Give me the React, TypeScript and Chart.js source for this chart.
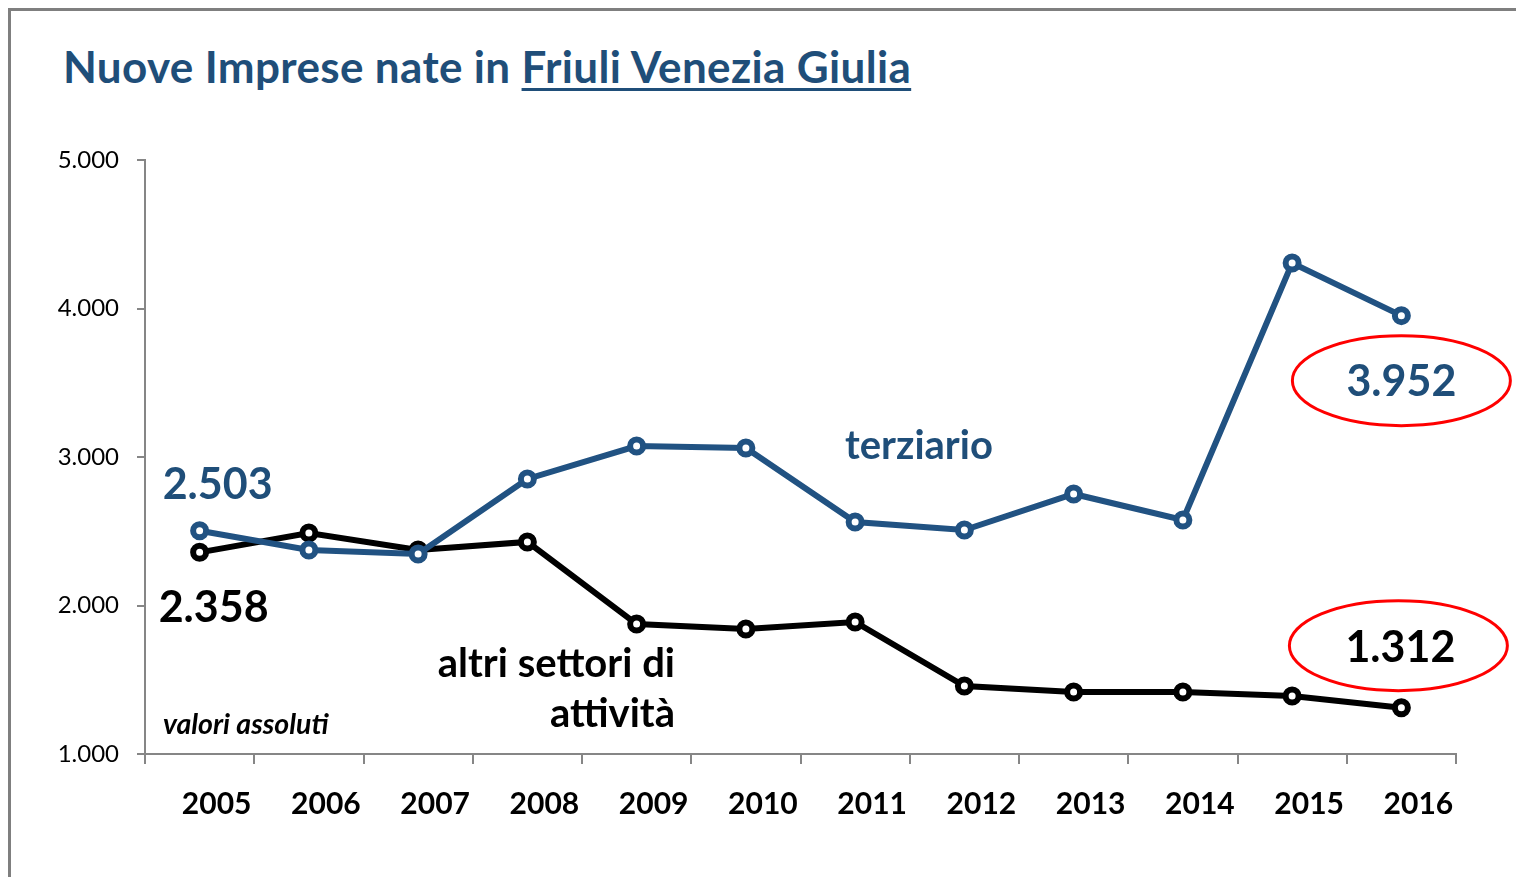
import React, { useEffect, useRef } from "react";
import { Chart, registerables } from "chart.js";

Chart.register(...registerables);

const years = ["2005", "2006", "2007", "2008", "2009", "2010", "2011", "2012", "2013", "2014", "2015", "2016"];
const terziario = [2503, 2374, 2347, 2852, 3074, 3061, 2562, 2508, 2751, 2576, 4306, 3952];
const altri = [2358, 2488, 2374, 2428, 1875, 1842, 1889, 1458, 1418, 1418, 1391, 1312];
const yMin = 1000;
const yMax = 5000;
const yStep = 1000;

const BLUE = "#1F4E79";
const LINE_BLUE = "#215282";
const FONT = "Lato, 'Open Sans', sans-serif";

const fmt = (n: number) => String(Math.round(n)).replace(/\B(?=(\d{3})+(?!\d))/g, ".");

const annotations = {
  id: "annotations",
  afterDatasetsDraw(chart: any) {
    const ctx = chart.ctx;
    const xs = chart.scales.x;
    const ys = chart.scales.y;
    const last = years.length - 1;
    ctx.save();
    ctx.textBaseline = "middle";
    // first values
    ctx.font = `bold 43px ${FONT}`;
    ctx.textAlign = "center";
    ctx.fillStyle = BLUE;
    ctx.fillText(fmt(terziario[0]), xs.getPixelForValue(0) + 18, ys.getPixelForValue(terziario[0]) - 46);
    ctx.fillStyle = "#000";
    ctx.fillText(fmt(altri[0]), xs.getPixelForValue(0) + 14, ys.getPixelForValue(altri[0]) + 56);
    // last values with ellipses
    const lx = xs.getPixelForValue(last);
    const ty = ys.getPixelForValue(terziario[last]) + 65;
    const ay = ys.getPixelForValue(altri[last]) - 62;
    ctx.strokeStyle = "#FF0000";
    ctx.lineWidth = 3;
    ctx.beginPath();
    ctx.ellipse(lx, ty, 109, 45, 0, 0, Math.PI * 2);
    ctx.stroke();
    ctx.beginPath();
    ctx.ellipse(lx - 3, ay, 109, 45, 0, 0, Math.PI * 2);
    ctx.stroke();
    ctx.fillStyle = BLUE;
    ctx.fillText(fmt(terziario[last]), lx, ty + 1);
    ctx.fillStyle = "#000";
    ctx.fillText(fmt(altri[last]), lx - 1, ay + 2);
    // series names
    ctx.font = `bold 40px ${FONT}`;
    ctx.textAlign = "left";
    ctx.fillStyle = BLUE;
    ctx.fillText("terziario", 845, 446);
    ctx.fillStyle = "#000";
    ctx.textAlign = "right";
    ctx.fillText("altri settori di", 675, 664);
    ctx.fillText("attività", 675, 714);
    ctx.font = `italic bold 28.5px ${FONT}`;
    ctx.textAlign = "left";
    ctx.fillText("valori assoluti", 163, 725);
    ctx.restore();
  },
};

export default function App() {
  const ref = useRef<HTMLCanvasElement>(null);
  useEffect(() => {
    if (!ref.current) return;
    const chart = new Chart(ref.current, {
      type: "line",
      data: {
        labels: years,
        datasets: [
          {
            label: "terziario",
            data: terziario,
            borderColor: LINE_BLUE,
            borderWidth: 6,
            pointRadius: 6.5,
            pointBorderWidth: 6,
            pointBackgroundColor: "#fff",
            pointBorderColor: LINE_BLUE,
            tension: 0,
          },
          {
            label: "altri settori di attività",
            data: altri,
            borderColor: "#000",
            borderWidth: 6,
            pointRadius: 6.5,
            pointBorderWidth: 6,
            pointBackgroundColor: "#fff",
            pointBorderColor: "#000",
            tension: 0,
          },
        ],
      },
      options: {
        responsive: false,
        animation: false,
        devicePixelRatio: 1,
        layout: { padding: { left: 0, top: 160, right: 60, bottom: 23 } },
        plugins: { legend: { display: false }, tooltip: { enabled: false }, title: { display: false } },
        scales: {
          x: {
            type: "category",
            offset: true,
            border: { display: true, color: "#868686", width: 2 },
            grid: { display: true, offset: true, drawOnChartArea: false, drawTicks: true, tickLength: 10, color: "#868686", lineWidth: 2 },
            ticks: {
              color: "#000",
              font: { family: FONT, size: 30, weight: "bold" },
              labelOffset: 17,
              padding: 22,
              maxRotation: 0,
              autoSkip: false,
            },
            afterFit: (s: any) => {
              s.height = 100;
            },
          },
          y: {
            min: yMin,
            max: yMax,
            border: { display: true, color: "#868686", width: 2 },
            grid: { display: true, drawOnChartArea: false, drawTicks: true, tickLength: 8, color: "#868686", lineWidth: 2 },
            ticks: {
              stepSize: yStep,
              color: "#000",
              font: { family: FONT, size: 24 },
              padding: 18,
              callback: (v: any) => fmt(Number(v)),
            },
            afterFit: (s: any) => {
              s.width = 145;
            },
          },
        },
      },
      plugins: [annotations],
    });
    return () => chart.destroy();
  }, []);

  return (
    <div style={{ position: "fixed", left: 0, top: 0, width: 1516, height: 877, background: "#fff", overflow: "hidden" }}>
      <div style={{ position: "absolute", left: 8, top: 8, width: 3, height: 869, background: "#7f7f7f" }} />
      <div style={{ position: "absolute", left: 8, top: 8, width: 1508, height: 3, background: "#7f7f7f" }} />
      <div
        style={{
          position: "absolute",
          left: 63,
          top: 37,
          fontFamily: FONT,
          fontWeight: 700,
          fontSize: 44,
          letterSpacing: 0.35,
          color: BLUE,
          whiteSpace: "nowrap",
          lineHeight: "58px",
        }}
      >
        Nuove Imprese nate in{" "}
        <span style={{ textDecoration: "underline", textDecorationThickness: 3, textUnderlineOffset: 5 }}>
          Friuli Venezia Giulia
        </span>
      </div>
      <canvas ref={ref} width={1516} height={877} style={{ position: "absolute", left: 0, top: 0 }} />
    </div>
  );
}
